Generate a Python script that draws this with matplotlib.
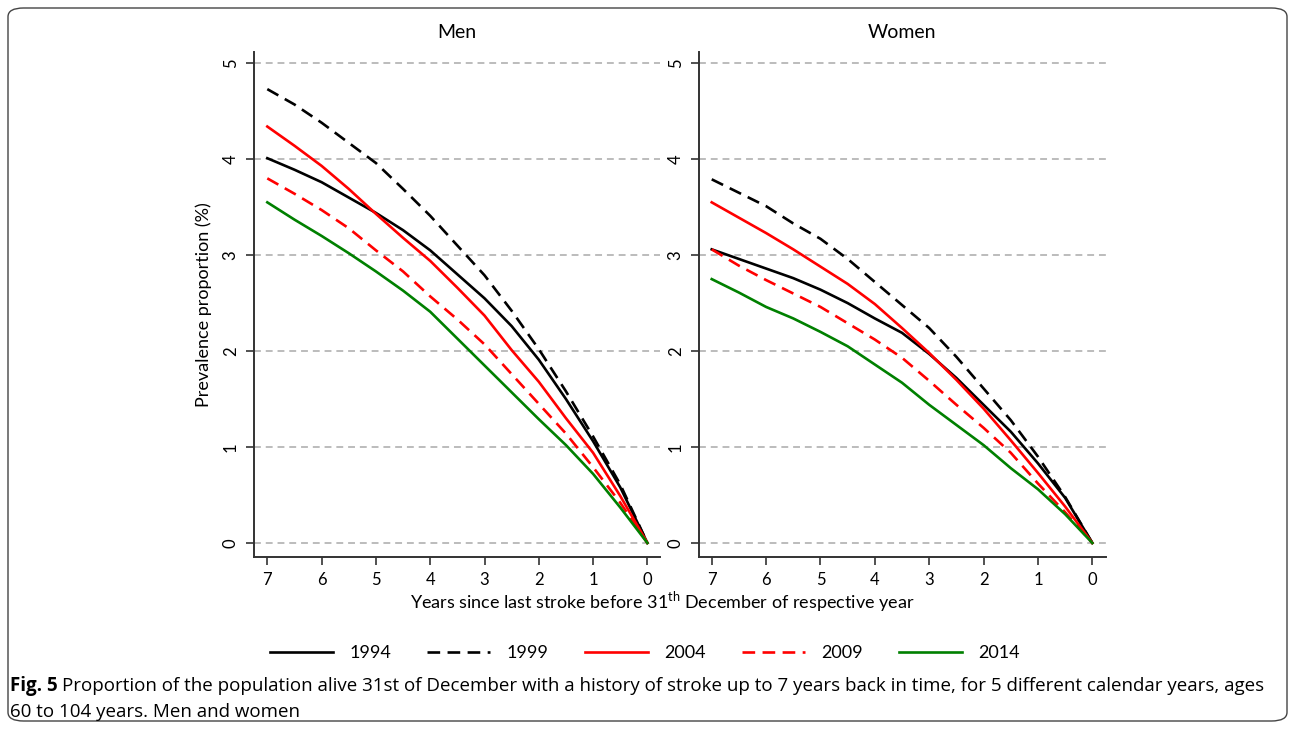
import numpy as np
import matplotlib.pyplot as plt
from matplotlib.patches import FancyBboxPatch

# years back in time (x axis, reversed)
years_back = [7, 6.5, 6, 5.5, 5, 4.5, 4, 3.5, 3, 2.5, 2, 1.5, 1, 0.5, 0]
calendar_years = ['1994', '1999', '2004', '2009', '2014']

# prevalence proportion (%), men
men_1994 = [4.01, 3.89, 3.76, 3.60, 3.44, 3.26, 3.05, 2.80, 2.55, 2.26, 1.91, 1.50, 1.06, 0.58, 0]
men_1999 = [4.73, 4.57, 4.38, 4.17, 3.96, 3.69, 3.41, 3.10, 2.79, 2.42, 2.02, 1.58, 1.11, 0.61, 0]
men_2004 = [4.34, 4.14, 3.93, 3.69, 3.43, 3.18, 2.94, 2.66, 2.37, 2.01, 1.68, 1.30, 0.94, 0.49, 0]
men_2009 = [3.80, 3.64, 3.47, 3.28, 3.05, 2.83, 2.57, 2.33, 2.07, 1.76, 1.45, 1.14, 0.79, 0.42, 0]
men_2014 = [3.55, 3.37, 3.20, 3.02, 2.83, 2.63, 2.41, 2.13, 1.85, 1.57, 1.29, 1.02, 0.72, 0.37, 0]

# prevalence proportion (%), women
women_1994 = [3.06, 2.96, 2.86, 2.76, 2.64, 2.50, 2.34, 2.19, 1.97, 1.72, 1.44, 1.16, 0.83, 0.47, 0]
women_1999 = [3.79, 3.65, 3.51, 3.33, 3.17, 2.96, 2.72, 2.48, 2.24, 1.94, 1.61, 1.28, 0.90, 0.48, 0]
women_2004 = [3.55, 3.39, 3.23, 3.06, 2.88, 2.70, 2.49, 2.24, 1.98, 1.70, 1.40, 1.07, 0.73, 0.38, 0]
women_2009 = [3.06, 2.89, 2.74, 2.60, 2.46, 2.29, 2.12, 1.93, 1.69, 1.44, 1.20, 0.94, 0.62, 0.32, 0]
women_2014 = [2.75, 2.61, 2.46, 2.34, 2.20, 2.05, 1.86, 1.67, 1.44, 1.23, 1.02, 0.78, 0.56, 0.30, 0]

x_ticks = [7, 6, 5, 4, 3, 2, 1, 0]
y_ticks = [0, 1, 2, 3, 4, 5]

colors = ['black', 'black', '#ff0000', '#ff0000', '#008000']
dashed = (0, (4.8, 2.8))
styles = ['-', dashed, '-', dashed, '-']

plt.rcParams['font.family'] = ['Lato', 'DejaVu Sans']
plt.rcParams['mathtext.fontset'] = 'custom'
plt.rcParams['mathtext.rm'] = 'Lato'

fig = plt.figure(figsize=(12.95, 7.29), dpi=100)

# rounded frame round the whole figure
frame = FancyBboxPatch((8 / 1295, 8 / 729), 1279 / 1295, 713 / 729,
                       boxstyle='round,pad=0,rounding_size=0.012',
                       transform=fig.transFigure, fill=False,
                       edgecolor='#444444', linewidth=1.0)
fig.patches.append(frame)

ax_men = fig.add_axes([254 / 1295, 1 - 556.7 / 729, 406 / 1295, 505 / 729])
ax_women = fig.add_axes([699 / 1295, 1 - 556.7 / 729, 406.7 / 1295, 505 / 729])

panels = [
    (ax_men, 'Men', [men_1994, men_1999, men_2004, men_2009, men_2014], (7.245, -0.232)),
    (ax_women, 'Women', [women_1994, women_1999, women_2004, women_2009, women_2014], (7.234, -0.246)),
]

lines = []
for ax, title, series, xlim in panels:
    for y in y_ticks:
        ax.axhline(y, color='#aaaaaa', lw=1.1, linestyle=(0, (4.5, 3.2)), zorder=0)
    for vals, col, ls, lab in zip(series, colors, styles, calendar_years):
        ln, = ax.plot(years_back, vals, color=col, linestyle=ls, lw=1.9, label=lab)
        if ax is ax_men:
            lines.append(ln)
    ax.set_xlim(*xlim)
    ax.set_ylim(-0.143, 5.12)
    ax.set_xticks(x_ticks)
    ax.set_yticks(y_ticks)
    ax.set_yticklabels([str(v) for v in y_ticks], rotation=90, va='center')
    ax.tick_params(axis='both', direction='out', length=6, width=1.2,
                   color='#333333', labelsize=12, pad=5)
    ax.spines['top'].set_visible(False)
    ax.spines['right'].set_visible(False)
    for sp in ['left', 'bottom']:
        ax.spines[sp].set_color('#333333')
        ax.spines[sp].set_linewidth(1.4)
    ax.set_title(title, fontsize=14, pad=10)

ax_men.set_ylabel('Prevalence proportion (%)', fontsize=13, labelpad=8)

fig.text(662 / 1295, 1 - 602 / 729,
         'Years since last stroke before 31$^{\\mathrm{th}}$ December of respective year',
         ha='center', va='center', fontsize=13)

fig.legend(lines, calendar_years, loc='center', bbox_to_anchor=(645 / 1295, 1 - 653 / 729),
           ncol=5, frameon=False, fontsize=13, handlelength=3.5, handletextpad=0.9,
           columnspacing=2.0)

# caption
cap_font = ['Open Sans', 'DejaVu Sans']
cap_y1 = 1 - 686 / 729
cap_y2 = 1 - 712 / 729
bold = fig.text(10 / 1295, cap_y1, 'Fig. 5', fontsize=13.5, fontweight='bold',
                family=cap_font, va='center')
fig.canvas.draw()
bb = bold.get_window_extent(fig.canvas.get_renderer())
fig.text(bb.x1 / 1295 + 4 / 1295, cap_y1,
         'Proportion of the population alive 31st of December with a history of stroke up to 7 years '
         'back in time, for 5 different calendar years, ages',
         fontsize=13.5, family=cap_font, va='center')
fig.text(10 / 1295, cap_y2, '60 to 104 years. Men and women', fontsize=13.5,
         family=cap_font, va='center')

fig.savefig('out.png', dpi=100)
